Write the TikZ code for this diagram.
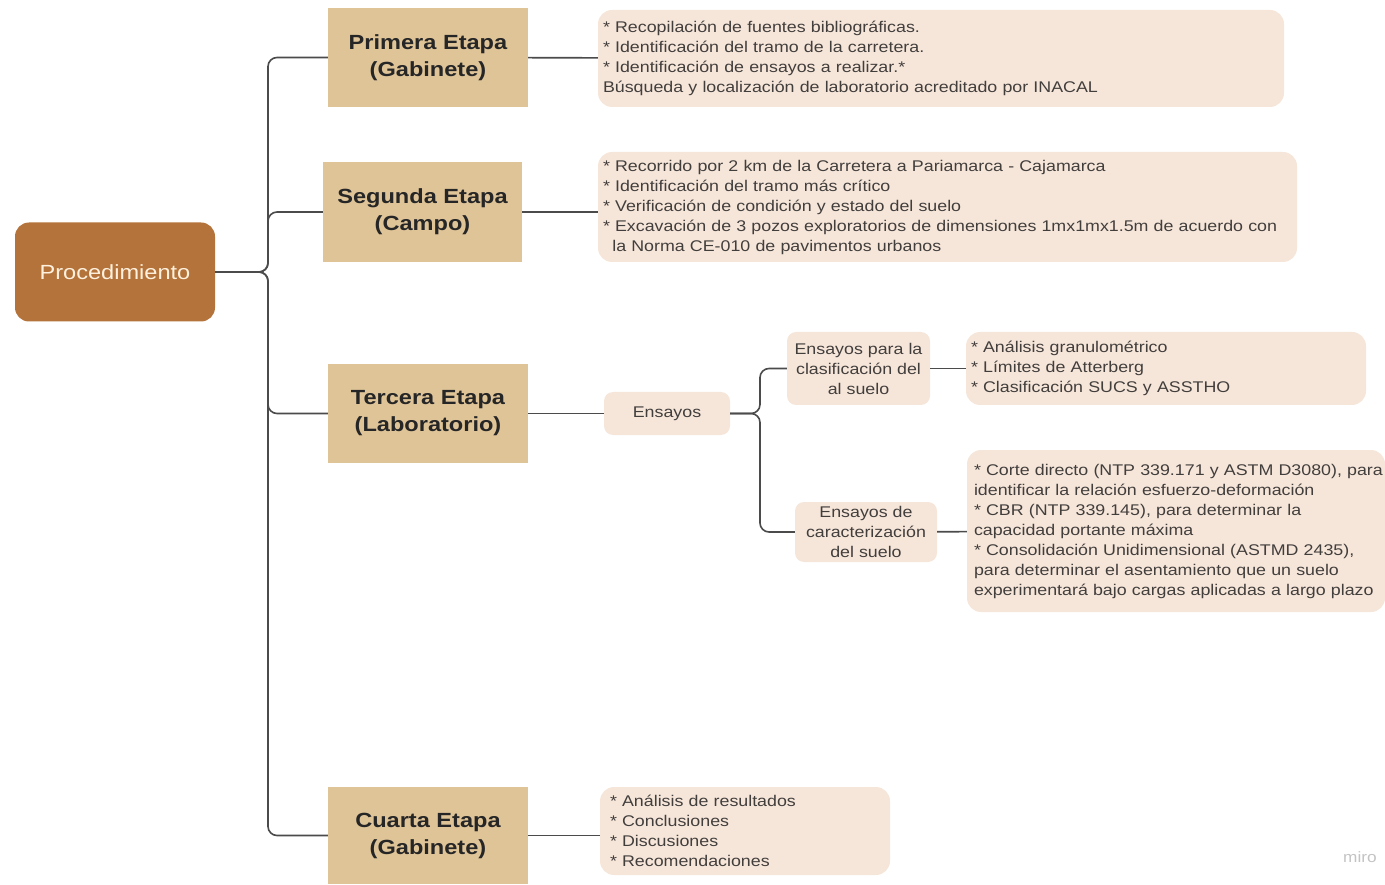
\documentclass[tikz,border=0pt]{standalone}
\usepackage{fontspec}
\setmainfont{Liberation Sans}[FakeStretch=1.15]
\usetikzlibrary{positioning}
\definecolor{Bark}{RGB}{180,115,58}
\definecolor{Cream}{RGB}{255,241,222}
\definecolor{Sand}{RGB}{223,196,152}
\definecolor{Blush}{RGB}{246,230,218}
\definecolor{Ink}{RGB}{66,62,60}
\definecolor{Wire}{RGB}{75,75,75}
\definecolor{Mark}{RGB}{195,195,195}
\tikzset{
  nodebox/.style={inner sep=0pt,align=center},
  rootbox/.style={nodebox,fill=Bark,text=Cream,rounded corners=14pt,minimum width=200pt,minimum height=99pt,font=\fontsize{20.5}{24}\selectfont},
  stagebox/.style={nodebox,fill=Sand,text=black!85,minimum width=200pt,minimum height=99pt,font=\bfseries\fontsize{20.5}{27}\selectfont},
  notebox/.style={nodebox,fill=Blush,text=Ink,rounded corners=14pt,align=left,inner xsep=5pt,font=\fontsize{15.5}{20}\selectfont},
  testbox/.style={nodebox,fill=Blush,text=Ink,rounded corners=9pt,font=\fontsize{15.5}{20}\selectfont},
  flow/.style={draw=Wire,line width=1.6pt,rounded corners=9pt}
}

\begin{document}
\begin{tikzpicture}[x=1pt,y=-1pt]
\useasboundingbox (0,0) rectangle (1385,885);
% root and the four stages
\node[rootbox] (proc) at (115,272) {Procedimiento};
\node[stagebox] (prim) at (428,57.5) {Primera Etapa\\(Gabinete)};
\node[stagebox,minimum width=199pt,minimum height=100pt] (segu) at (422.5,212) {Segunda Etapa\\(Campo)};
\node[stagebox] (terc) at (428,413.5) {Tercera Etapa\\(Laboratorio)};
\node[stagebox,minimum height=97pt] (cuar) at (428,835.5) {Cuarta Etapa\\(Gabinete)};
% notes
\node[notebox,text width=676pt,minimum height=97pt] (primnote) at (941,58.5) {* Recopilación de fuentes bibliográficas.\\{}* Identificación del tramo de la carretera.\\{}* Identificación de ensayos a realizar.*\\Búsqueda y localización de laboratorio acreditado por INACAL};
\node[notebox,text width=689pt,minimum height=110pt] (segunote) at (947.5,207) {* Recorrido por 2 km de la Carretera a Pariamarca - Cajamarca\\{}* Identificación del tramo más crítico\\{}* Verificación de condición y estado del suelo\\{}* Excavación de 3 pozos exploratorios de dimensiones 1mx1mx1.5m de acuerdo con\\\hspace*{0.6em}la Norma CE-010 de pavimentos urbanos};
\node[testbox,minimum width=126pt,minimum height=43pt] (ensa) at (667,413.5) {Ensayos};
\node[testbox,minimum width=143pt,minimum height=73pt] (clas) at (858.5,368.5) {Ensayos para la\\clasificación del\\al suelo};
\node[notebox,text width=390pt,minimum height=73pt] (clasnote) at (1166,368.5) {* Análisis granulométrico\\{}* Límites de Atterberg\\{}* Clasificación SUCS y ASSTHO};
\node[testbox,minimum width=142pt,minimum height=60pt] (cara) at (866,532) {Ensayos de\\caracterización\\del suelo};
\node[notebox,inner xsep=7pt,text width=404pt,minimum height=162pt] (caranote) at (1176,531) {\makebox[404pt][l]{* Corte directo (NTP 339.171 y ASTM D3080), para}\\identificar la relación esfuerzo-deformación\\{}* CBR (NTP 339.145), para determinar la\\capacidad portante máxima\\{}* Consolidación Unidimensional (ASTMD 2435),\\para determinar el asentamiento que un suelo\\experimentará bajo cargas aplicadas a largo plazo};
\node[notebox,inner xsep=10pt,text width=270pt,minimum height=88pt] (cuarnote) at (745,831) {* Análisis de resultados\\{}* Conclusiones\\{}* Discusiones\\{}* Recomendaciones};
\node[text=Mark,font=\fontsize{15}{18}\selectfont] (miro) at (1360,857) {miro};
% connectors
\coordinate (trunk) at (268,272);
\foreach \s in {prim,segu,terc,cuar}
  \draw[flow] (proc.east) -- (trunk) |- (\s.west);
\draw[flow] (prim) -- (primnote);
\draw[flow] (segu.east) -- (segunote.west |- segu.east);
\draw[flow] (terc) -- (ensa);
\coordinate (fork) at (760,413.5);
\draw[flow] (ensa.east) -- (fork) |- (clas.west);
\draw[flow] (ensa.east) -- (fork) |- (cara.west);
\draw[flow] (clas) -- (clasnote);
\draw[flow] (cara) -- (caranote);
\draw[flow] (cuar.east) -- (cuarnote.west |- cuar.east);
\end{tikzpicture}
\end{document}
